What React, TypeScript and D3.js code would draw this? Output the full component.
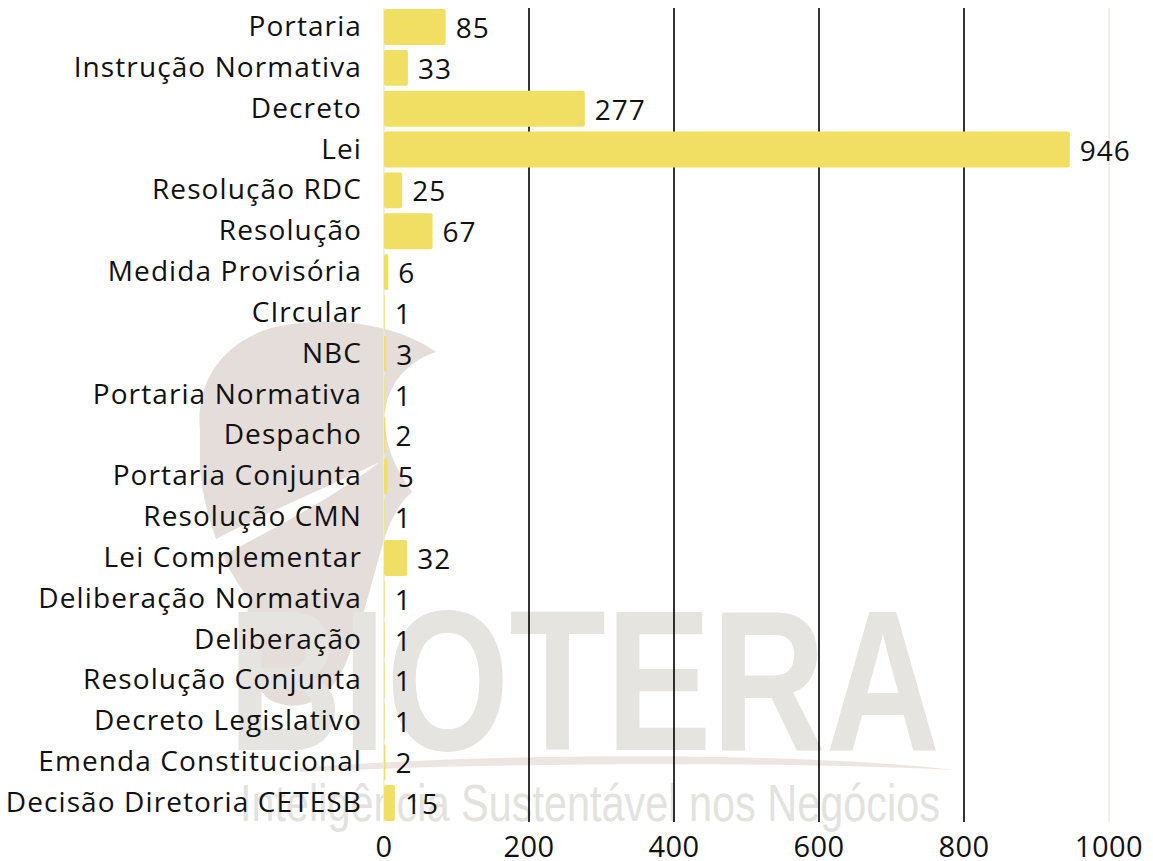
import React from "react";
import * as d3 from "d3";

const categories = [
  "Portaria",
  "Instrução Normativa",
  "Decreto",
  "Lei",
  "Resolução RDC",
  "Resolução",
  "Medida Provisória",
  "CIrcular",
  "NBC",
  "Portaria Normativa",
  "Despacho",
  "Portaria Conjunta",
  "Resolução CMN",
  "Lei Complementar",
  "Deliberação Normativa",
  "Deliberação",
  "Resolução Conjunta",
  "Decreto Legislativo",
  "Emenda Constitucional",
  "Decisão Diretoria CETESB",
];
const values = [85, 33, 277, 946, 25, 67, 6, 1, 3, 1, 2, 5, 1, 32, 1, 1, 1, 1, 2, 15];
const ticks = [0, 200, 400, 600, 800, 1000];

const W = 1153;
const H = 861;
const FONT = "'Open Sans', 'Noto Sans', sans-serif";

export default function App() {
  const x = d3.scaleLinear().domain([0, 1000]).range([384, 1109]);
  const y = d3
    .scaleBand<string>()
    .domain(categories)
    .range([6.6, 823.4])
    .paddingInner(0.12)
    .paddingOuter(0.06);
  const gridTop = 8;
  const gridBottom = 822;

  return (
    <svg
      width={W}
      height={H}
      style={{ position: "absolute", left: 0, top: 0, background: "#fff" }}
    >
      {/* watermark */}
      <g>
        <path
          d="M200,430 C195,380 225,340 275,327 C325,315 395,322 436,352 C412,360 392,378 386,405 C381,435 392,465 412,492 C402,500 392,515 384,540 C372,580 362,625 345,665 C330,700 300,715 270,700 C245,680 240,640 250,600 C225,570 205,520 200,470 Z"
          fill="#e4ddd9"
        />
        <path
          d="M205,545 C250,520 320,490 380,462 C330,500 270,530 215,560 Z"
          fill="#ffffff"
        />
        <text
          x={228}
          y={750}
          fontFamily="'Liberation Sans Narrow', 'Liberation Sans', sans-serif"
          fontWeight={700}
          fontSize={200}
          fill="#e6e4e0"
          textLength={712}
          lengthAdjust="spacingAndGlyphs"
        >
          BIOTERA
        </text>
        <path
          d="M300,768 C500,752 800,752 955,770 C800,762 500,762 300,772 Z"
          fill="#ede5e1"
        />
        <text
          x={240}
          y={821}
          fontFamily="'Liberation Sans Narrow', 'Liberation Sans', sans-serif"
          fontWeight={400}
          fontSize={52}
          fill="#e4e2de"
          textLength={700}
          lengthAdjust="spacingAndGlyphs"
        >
          Inteligência Sustentável nos Negócios
        </text>
      </g>

      {/* gridlines */}
      {ticks.map((t) => (
        <line
          key={"g" + t}
          x1={x(t)}
          x2={x(t)}
          y1={gridTop}
          y2={gridBottom}
          stroke={t === 0 || t === 1000 ? "#ebebe6" : "#000"}
          strokeWidth={t === 0 || t === 1000 ? 1.5 : 1.6}
        />
      ))}

      {/* bars */}
      {categories.map((c, i) => (
        <rect
          key={"b" + c}
          x={x(0)}
          y={y(c)}
          width={Math.max(0.7, x(values[i]) - x(0))}
          height={y.bandwidth()}
          rx={Math.min(2, (x(values[i]) - x(0)) / 2)}
          fill="#f1df64"
        />
      ))}

      {/* category labels */}
      {categories.map((c) => (
        <text
          key={"l" + c}
          x={362}
          y={(y(c) as number) + y.bandwidth() / 2 + 9}
          textAnchor="end"
          fontFamily={FONT}
          fontSize={28}
          letterSpacing={1.1}
          fill="#111"
        >
          {c}
        </text>
      ))}

      {/* value labels */}
      {categories.map((c, i) => (
        <text
          key={"v" + c}
          x={x(values[i]) + 10}
          y={(y(c) as number) + y.bandwidth() / 2 + 11}
          fontFamily={FONT}
          fontSize={28}
          letterSpacing={1}
          fill="#111"
        >
          {values[i]}
        </text>
      ))}

      {/* tick labels */}
      {ticks.map((t) => (
        <text
          key={"t" + t}
          x={x(t)}
          y={857}
          textAnchor="middle"
          fontFamily={FONT}
          fontSize={29}
          letterSpacing={0.5}
          fill="#111"
        >
          {t}
        </text>
      ))}
    </svg>
  );
}
